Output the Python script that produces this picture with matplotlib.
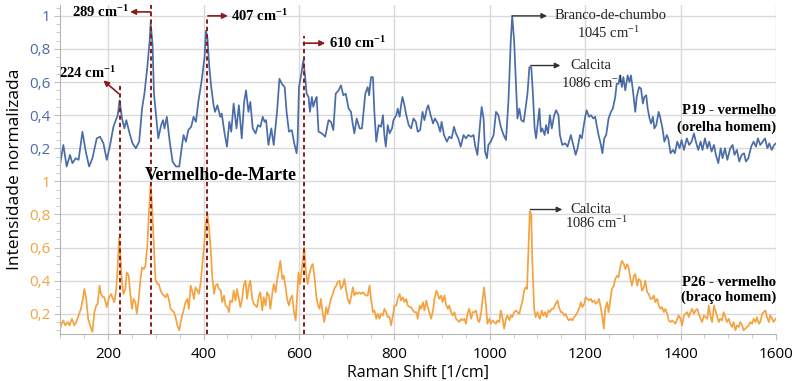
import numpy as np
import matplotlib
matplotlib.use('Agg')
import matplotlib.pyplot as plt
from matplotlib.ticker import MultipleLocator

# P19 - vermelho (orelha homem), upper trace
p19_shift = [99,106,113,120,125,132,138,146,153,160,167,176,183,190,197,204,211,216,220,224,229,234,238,244,251,258,265,271,276,282,
             287,289,293,296,301,305,311,315,318,323,329,335,342,349,354,358,363,368,374,379,384,389,396,402,405,408,412,416,421,424,
             429,435,438,444,449,454,458,463,469,474,480,485,489,494,498,503,509,514,519,524,528,531,536,542,547,554,559,564,570,574,
             579,585,590,595,597,600,605,609,613,616,620,623,627,630,634,637,641,648,655,662,667,672,677,683,688,693,698,704,709,712,
             716,721,727,732,739,744,747,751,755,758,762,767,772,776,779,782,786,790,795,798,804,807,811,814,817,821,825,830,835,840,
             845,849,854,859,863,868,871,876,881,885,891,896,899,904,910,915,920,925,929,934,939,945,950,955,961,966,969,974,980,983,
             987,990,994,997,1002,1008,1013,1018,1023,1029,1034,1039,1044,1047,1051,1055,1058,1062,1066,1071,1074,1079,1083,1087,1090,1094,1097,1101,1104,1107,
             1110,1115,1118,1122,1126,1130,1135,1139,1144,1147,1152,1158,1163,1167,1170,1175,1180,1184,1189,1193,1196,1200,1203,1208,1212,1217,1221,1224,1228,1233,
             1236,1240,1244,1249,1254,1258,1263,1266,1270,1273,1277,1280,1284,1289,1293,1296,1300,1305,1308,1313,1317,1321,1324,1328,1331,1335,1338,1342,1345,1349,
             1354,1357,1362,1366,1371,1374,1379,1384,1388,1393,1398,1402,1407,1413,1418,1423,1428,1432,1437,1442,1446,1451,1456,1460,1465,1470,1474,1479,1484,1488,
             1493,1498,1504,1509,1513,1518,1523,1528,1533,1537,1542,1548,1553,1558,1562,1567,1572,1577,1582,1586,1591,1596,1600]
p19_int = [0.10,0.22,0.09,0.16,0.11,0.14,0.13,0.30,0.18,0.09,0.14,0.26,0.27,0.23,0.13,0.22,0.33,0.37,0.40,0.49,0.38,0.32,0.37,0.30,0.23,0.20,0.24,0.44,0.53,0.69,
           0.85,0.96,0.83,0.53,0.38,0.26,0.34,0.37,0.32,0.39,0.24,0.12,0.09,0.09,0.20,0.28,0.24,0.31,0.33,0.39,0.36,0.48,0.61,0.75,0.91,0.87,0.69,0.57,0.46,0.42,
           0.46,0.39,0.41,0.29,0.21,0.36,0.30,0.47,0.32,0.46,0.26,0.48,0.55,0.42,0.48,0.32,0.29,0.34,0.33,0.39,0.36,0.37,0.22,0.32,0.22,0.42,0.62,0.59,0.57,0.42,
           0.30,0.31,0.23,0.17,0.24,0.57,0.65,0.73,0.63,0.53,0.51,0.42,0.51,0.45,0.49,0.51,0.30,0.29,0.27,0.37,0.36,0.31,0.53,0.55,0.58,0.52,0.53,0.44,0.42,0.36,
           0.29,0.38,0.32,0.32,0.53,0.57,0.52,0.63,0.63,0.42,0.24,0.34,0.33,0.40,0.28,0.21,0.34,0.29,0.32,0.37,0.40,0.44,0.39,0.46,0.51,0.46,0.40,0.34,0.32,0.38,
           0.36,0.30,0.31,0.42,0.37,0.44,0.46,0.40,0.35,0.38,0.35,0.30,0.36,0.28,0.24,0.27,0.26,0.33,0.29,0.26,0.21,0.28,0.26,0.28,0.27,0.28,0.22,0.16,0.36,0.45,
           0.38,0.18,0.14,0.22,0.24,0.28,0.42,0.40,0.33,0.28,0.25,0.48,0.85,1.00,0.85,0.59,0.38,0.44,0.37,0.36,0.42,0.53,0.69,0.69,0.55,0.32,0.26,0.36,0.44,0.30,
           0.32,0.28,0.34,0.29,0.40,0.32,0.40,0.43,0.40,0.28,0.22,0.23,0.21,0.25,0.28,0.22,0.16,0.20,0.28,0.26,0.32,0.39,0.43,0.39,0.40,0.38,0.39,0.34,0.28,0.22,
           0.17,0.26,0.28,0.38,0.42,0.44,0.51,0.59,0.59,0.64,0.57,0.63,0.55,0.64,0.60,0.64,0.55,0.42,0.51,0.57,0.56,0.47,0.51,0.52,0.44,0.38,0.35,0.39,0.32,0.34,
           0.42,0.39,0.32,0.24,0.28,0.26,0.17,0.19,0.17,0.24,0.20,0.25,0.19,0.26,0.22,0.24,0.29,0.24,0.19,0.24,0.19,0.26,0.20,0.24,0.18,0.22,0.16,0.11,0.20,0.14,
           0.20,0.13,0.20,0.22,0.16,0.19,0.12,0.16,0.17,0.12,0.14,0.21,0.24,0.21,0.26,0.22,0.24,0.26,0.20,0.23,0.19,0.22,0.23]

# P26 - vermelho (braço homem), lower trace
p26_shift = [97,101,106,110,115,119,124,129,133,138,143,147,150,154,158,162,167,171,175,178,182,185,189,192,197,202,206,210,213,217,
             220,223,226,229,232,236,239,243,246,250,253,257,260,264,267,271,275,278,282,285,289,292,296,299,303,306,310,313,317,320,
             324,327,331,334,338,342,345,349,352,355,359,362,366,369,373,376,380,383,387,390,394,397,401,405,408,411,415,418,422,425,
             429,432,436,439,443,446,450,453,456,460,463,467,470,474,477,481,484,488,491,495,498,502,505,509,512,516,519,523,526,530,
             533,537,540,544,547,551,554,558,561,565,568,572,575,579,582,586,589,593,596,599,602,606,611,614,618,621,626,629,633,636,
             640,643,646,650,653,657,660,664,667,671,674,678,681,685,688,692,695,699,702,706,709,713,716,720,723,727,730,734,737,741,
             744,748,751,755,758,762,765,769,772,776,779,783,786,790,793,797,800,804,807,811,814,818,821,825,828,832,835,839,842,846,
             849,853,856,860,863,867,870,874,877,881,884,888,891,894,898,901,905,908,912,915,919,922,926,929,933,936,940,943,947,950,
             954,957,961,964,968,971,975,978,982,985,988,992,995,999,1002,1006,1009,1013,1016,1020,1023,1027,1030,1034,1037,1041,1044,1047,1051,1055,
             1058,1062,1065,1068,1072,1075,1078,1081,1084,1087,1089,1093,1096,1100,1103,1105,1109,1112,1116,1119,1123,1126,1130,1133,1138,1142,1145,1149,1152,1156,
             1159,1163,1166,1170,1173,1177,1180,1184,1187,1191,1194,1198,1201,1205,1208,1212,1215,1219,1222,1226,1229,1233,1236,1239,1242,1246,1249,1253,1256,1260,
             1263,1267,1270,1274,1277,1281,1284,1288,1291,1295,1298,1302,1305,1309,1312,1316,1319,1323,1326,1330,1333,1337,1340,1344,1347,1351,1354,1358,1361,1365,
             1368,1372,1375,1379,1382,1386,1389,1393,1396,1400,1403,1407,1410,1414,1417,1421,1424,1428,1431,1435,1438,1442,1445,1449,1452,1456,1459,1463,1466,1470,
             1473,1476,1480,1483,1487,1490,1494,1497,1501,1504,1508,1511,1515,1518,1522,1525,1529,1532,1536,1539,1543,1546,1550,1553,1557,1560,1564,1567,1571,1574,
             1578,1581,1585,1588,1592,1595,1599]
p26_int = [0.08,0.13,0.16,0.13,0.15,0.13,0.17,0.13,0.15,0.19,0.23,0.29,0.35,0.29,0.17,0.13,0.09,0.21,0.25,0.26,0.37,0.32,0.30,0.30,0.24,0.30,0.32,0.29,0.27,0.35,
           0.49,0.66,0.53,0.39,0.32,0.35,0.45,0.43,0.33,0.23,0.29,0.27,0.20,0.29,0.39,0.48,0.47,0.49,0.61,0.79,0.99,0.85,0.59,0.41,0.38,0.38,0.34,0.32,0.31,0.30,
           0.32,0.29,0.23,0.22,0.21,0.17,0.13,0.10,0.15,0.19,0.23,0.27,0.29,0.23,0.37,0.34,0.29,0.36,0.34,0.32,0.39,0.49,0.61,0.75,0.80,0.73,0.59,0.43,0.32,0.37,
           0.38,0.35,0.34,0.27,0.31,0.25,0.24,0.21,0.28,0.27,0.34,0.28,0.35,0.29,0.24,0.29,0.37,0.40,0.29,0.37,0.40,0.29,0.26,0.25,0.24,0.31,0.33,0.22,0.30,0.25,
           0.33,0.31,0.23,0.32,0.38,0.33,0.40,0.47,0.52,0.41,0.43,0.36,0.29,0.25,0.29,0.31,0.22,0.16,0.30,0.45,0.38,0.47,0.60,0.47,0.38,0.43,0.49,0.50,0.41,0.31,
           0.25,0.23,0.29,0.20,0.15,0.24,0.20,0.25,0.29,0.32,0.35,0.37,0.39,0.40,0.35,0.37,0.41,0.34,0.29,0.26,0.30,0.36,0.31,0.33,0.32,0.33,0.32,0.33,0.32,0.31,
           0.31,0.37,0.29,0.21,0.22,0.17,0.20,0.17,0.20,0.19,0.23,0.21,0.18,0.18,0.13,0.19,0.25,0.25,0.29,0.32,0.28,0.30,0.27,0.29,0.25,0.24,0.24,0.22,0.21,0.21,
           0.17,0.25,0.23,0.27,0.22,0.28,0.24,0.20,0.17,0.22,0.29,0.34,0.32,0.29,0.31,0.27,0.31,0.26,0.23,0.25,0.21,0.19,0.21,0.17,0.16,0.15,0.17,0.16,0.17,0.14,
           0.21,0.23,0.17,0.21,0.21,0.22,0.16,0.15,0.21,0.29,0.36,0.25,0.14,0.17,0.14,0.16,0.15,0.14,0.16,0.15,0.22,0.17,0.11,0.17,0.19,0.16,0.19,0.18,0.21,0.22,
           0.21,0.20,0.24,0.27,0.34,0.36,0.35,0.59,0.82,0.80,0.53,0.23,0.18,0.21,0.18,0.17,0.22,0.19,0.21,0.18,0.22,0.21,0.23,0.23,0.26,0.28,0.24,0.21,0.21,0.19,
           0.20,0.17,0.16,0.17,0.16,0.18,0.19,0.21,0.23,0.27,0.24,0.26,0.30,0.29,0.28,0.29,0.27,0.28,0.26,0.27,0.29,0.23,0.18,0.11,0.23,0.27,0.21,0.29,0.35,0.37,
           0.41,0.43,0.42,0.49,0.52,0.50,0.47,0.50,0.48,0.41,0.37,0.43,0.44,0.37,0.41,0.40,0.34,0.36,0.40,0.33,0.32,0.29,0.29,0.31,0.27,0.29,0.25,0.23,0.24,0.21,
           0.23,0.20,0.16,0.15,0.16,0.15,0.14,0.17,0.19,0.17,0.13,0.19,0.20,0.21,0.18,0.21,0.23,0.20,0.22,0.23,0.20,0.17,0.15,0.19,0.18,0.17,0.25,0.18,0.15,0.25,
           0.22,0.19,0.15,0.17,0.16,0.21,0.18,0.15,0.17,0.14,0.12,0.15,0.10,0.13,0.12,0.15,0.13,0.10,0.11,0.12,0.13,0.15,0.14,0.17,0.15,0.18,0.14,0.15,0.20,0.21,
           0.22,0.18,0.15,0.19,0.17,0.15,0.17]

# Vermelho-de-Marte bands (dashed markers) and top of each marker on the P19 scale
band_pos = [224, 289, 407, 610]
band_top = [0.58, 1.07, 0.99, 0.88]

offset = 1.0  # P19 drawn above P26
blue = '#4a6ca8'
orange = '#f4a340'
darkred = '#8b1a1a'
ymin, ymax = 0.077, 2.066

plt.rcParams['mathtext.default'] = 'regular'
fig = plt.figure(figsize=(8, 3.81), dpi=100)
ax = fig.add_axes([0.075, 0.123, 0.895, 0.864])

ax.plot(p26_shift, p26_int, color=orange, lw=1.25, zorder=2, solid_joinstyle='round')
ax.plot(p19_shift, np.array(p19_int) + offset, color=blue, lw=1.25, zorder=2, solid_joinstyle='round')

for xb, tb in zip(band_pos, band_top):
    ax.plot([xb, xb], [ymin, min(tb + offset, ymax)], color=darkred, lw=1.4,
            ls=(0, (2.2, 1.6)), zorder=3, clip_on=False)

ax.set_xlim(99, 1600)
ax.set_ylim(ymin, ymax)
ax.xaxis.set_major_locator(MultipleLocator(200))
ax.xaxis.set_minor_locator(MultipleLocator(50))
ax.yaxis.set_minor_locator(MultipleLocator(0.05))
yt = [0.2, 0.4, 0.6, 0.8, 1.0, 1.2, 1.4, 1.6, 1.8, 2.0]
ylab = ['0,2', '0,4', '0,6', '0,8', '1', '0,2', '0,4', '0,6', '0,8', '1']
ax.set_yticks(yt)
ax.set_yticklabels(ylab, family='Open Sans', fontsize=11)
for i, t in enumerate(ax.get_yticklabels()):
    t.set_color(orange if i < 5 else blue)
for t in ax.get_xticklabels():
    t.set_family('Open Sans')
    t.set_fontsize(11)

ax.grid(True, which='major', color='#d9d9d9', lw=1)
ax.set_axisbelow(True)
for s in ['top', 'right']:
    ax.spines[s].set_visible(False)
for s in ['left', 'bottom']:
    ax.spines[s].set_color('#b5b5b5')
ax.tick_params(which='major', length=4, color='#c0c0c0', pad=3)
ax.tick_params(which='minor', length=3, color='#c0c0c0')
ax.tick_params(axis='x', pad=5)

ax.set_xlabel('Raman Shift [1/cm]', family='Open Sans', fontsize=11.5, labelpad=2)
ax.set_ylabel('Intensidade normalizada', family='Open Sans', fontsize=12.5)
ax.yaxis.set_label_coords(-0.051, 0.5)

# band labels
bold = dict(family='Liberation Serif', weight='bold', fontsize=10.5, color='black')
reg = dict(family='Liberation Serif', fontsize=10.5, color='#222222')
arr_r = dict(arrowstyle='-|>', color=darkred, lw=1.2, mutation_scale=8, shrinkA=0, shrinkB=0)
arr_k = dict(arrowstyle='-|>', color='#333333', lw=1.0, mutation_scale=8, shrinkA=0, shrinkB=0)

ax.annotate('', xy=(190, 1.61), xytext=(222, 1.53), arrowprops=arr_r)
ax.text(157, 1.655, '224 cm$^{-1}$', ha='center', va='center', **bold)
ax.annotate('', xy=(246, 2.024), xytext=(289, 2.024), arrowprops=arr_r, annotation_clip=False)
ax.text(243, 2.024, '289 cm$^{-1}$', ha='right', va='center', **bold)
ax.annotate('', xy=(451, 2.0), xytext=(409, 2.0), arrowprops=arr_r)
ax.text(458, 2.0, '407 cm$^{-1}$', ha='left', va='center', **bold)
ax.annotate('', xy=(655, 1.835), xytext=(609, 1.835), arrowprops=arr_r)
ax.text(662, 1.835, '610 cm$^{-1}$', ha='left', va='center', **bold)

ax.annotate('', xy=(1120, 2.0), xytext=(1047, 2.0), arrowprops=arr_k)
ax.text(1254, 2.004, 'Branco-de-chumbo', ha='center', va='center', **reg)
ax.text(1250, 1.894, '1045 cm$^{-1}$', ha='center', va='center', **reg)
ax.annotate('', xy=(1148, 1.70), xytext=(1086, 1.70), arrowprops=arr_k)
ax.text(1212, 1.70, 'Calcita', ha='center', va='center', **reg)
ax.text(1216, 1.595, '1086 cm$^{-1}$', ha='center', va='center', **reg)
ax.annotate('', xy=(1152, 0.83), xytext=(1085, 0.83), arrowprops=arr_k)
ax.text(1212, 0.83, 'Calcita', ha='center', va='center', **reg)
ax.text(1223, 0.75, '1086 cm$^{-1}$', ha='center', va='center', **reg)

ax.text(437, 1.034, 'Vermelho-de-Marte', ha='center', va='center',
        family='Liberation Serif', weight='bold', fontsize=13)
ax.text(1601, 1.43, 'P19 - vermelho', ha='right', va='center', **bold)
ax.text(1601, 1.33, '(orelha homem)', ha='right', va='center', **bold)
ax.text(1601, 0.39, 'P26 - vermelho', ha='right', va='center', **bold)
ax.text(1601, 0.30, '(braço homem)', ha='right', va='center', **bold)

fig.savefig('out.png', dpi=100)
